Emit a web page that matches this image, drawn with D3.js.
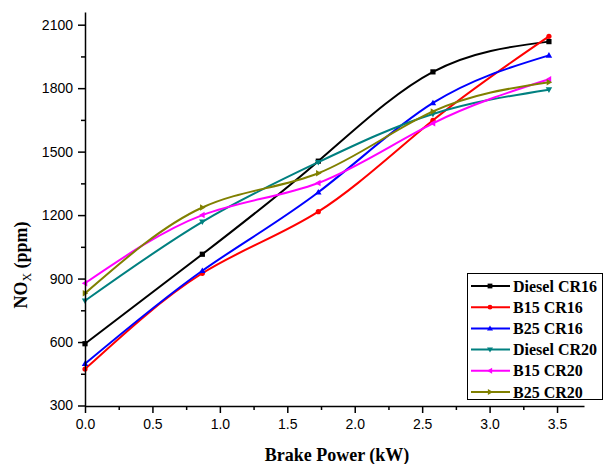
<!DOCTYPE html>
<html><head><meta charset="utf-8">
<script src="https://cdn.jsdelivr.net/npm/d3@7"></script>
<style>body{margin:0;background:#fff}svg{display:block}</style>
</head><body>
<svg id="c" width="604" height="464"></svg>
<script>
const brakePower = [0, 0.87, 1.73, 2.58, 3.44];
const seriesNames = ["Diesel CR16", "B15 CR16", "B25 CR16", "Diesel CR20", "B15 CR20", "B25 CR20"];
const dieselCR16 = [592, 1015, 1455, 1877, 2020];
const b15CR16 = [472, 925, 1216, 1648, 2045];
const b25CR16 = [497, 937, 1308, 1730, 1955];
const dieselCR20 = [795, 1168, 1450, 1678, 1793];
const b15CR20 = [878, 1200, 1352, 1634, 1842];
const b25CR20 = [830, 1236, 1398, 1690, 1828];
const xTicks = [0, 0.5, 1.0, 1.5, 2.0, 2.5, 3.0, 3.5];
const yTicks = [300, 600, 900, 1200, 1500, 1800, 2100];
const colors = ["#000000", "#ff0000", "#0000ff", "#008080", "#ff00ff", "#808000"];
const symbols = ["square", "circle", "up", "down", "left", "right"];
const allSeries = [dieselCR16, b15CR16, b25CR16, dieselCR20, b15CR20, b25CR20];

const svg = d3.select("#c");
const x = d3.scaleLinear().domain([0, 3.7]).range([85, 584]);
const y = d3.scaleLinear().domain([300, 2160]).range([405.5, 12]);

function marker(g, type, cx, cy, color, s) {
  s = s || 2.6;
  if (type === "square") g.append("rect").attr("x", cx - s).attr("y", cy - s).attr("width", 2*s).attr("height", 2*s).attr("fill", color);
  else if (type === "circle") g.append("circle").attr("cx", cx).attr("cy", cy).attr("r", s).attr("fill", color);
  else {
    const r = s * 1.25;
    let pts;
    if (type === "up") pts = [[0,-r],[r,r*0.7],[-r,r*0.7]];
    if (type === "down") pts = [[0,r],[r,-r*0.7],[-r,-r*0.7]];
    if (type === "left") pts = [[-r,0],[r*0.7,-r],[r*0.7,r]];
    if (type === "right") pts = [[r,0],[-r*0.7,-r],[-r*0.7,r]];
    g.append("polygon").attr("points", pts.map(p => (cx+p[0])+","+(cy+p[1])).join(" ")).attr("fill", color);
  }
}

// lines
const line = d3.line().x(d => x(d[0])).y(d => y(d[1])).curve(d3.curveNatural);
allSeries.forEach((vals, i) => {
  const data = brakePower.map((b, j) => [b, vals[j]]);
  svg.append("path").attr("d", line(data)).attr("fill", "none").attr("stroke", colors[i]).attr("stroke-width", 2);
  const g = svg.append("g");
  data.forEach(d => marker(g, symbols[i], x(d[0]), y(d[1]), colors[i]));
});

// axes
const xAxis = d3.axisBottom(x).tickValues(xTicks).tickFormat(d3.format(".1f")).tickSize(7).tickSizeOuter(0);
const gx = svg.append("g").attr("transform", "translate(0,406)").call(xAxis);
gx.selectAll(".tick text").attr("font-family", "Liberation Sans, Arial, sans-serif").attr("font-size", 14).attr("dy", "0.9em").attr("fill", "#000");
gx.select(".domain").attr("stroke-width", 1.5);
gx.selectAll(".tick line").attr("stroke-width", 1.5);
const gxm = svg.append("g").attr("transform", "translate(0,406)").call(d3.axisBottom(x).tickValues(d3.range(0.25, 3.7, 0.5)).tickSize(4).tickFormat(""));
gxm.select(".domain").remove();
gxm.selectAll(".tick line").attr("stroke-width", 1.5);

const yAxis = d3.axisLeft(y).tickValues(yTicks).tickFormat(d3.format("d")).tickSize(7).tickSizeOuter(0);
const gy = svg.append("g").attr("transform", "translate(85,0)").call(yAxis);
gy.selectAll(".tick text").attr("font-family", "Liberation Sans, Arial, sans-serif").attr("font-size", 14).attr("x", -12).attr("fill", "#000");
gy.select(".domain").attr("stroke-width", 1.5);
gy.selectAll(".tick line").attr("stroke-width", 1.5);
const gym = svg.append("g").attr("transform", "translate(85,0)").call(d3.axisLeft(y).tickValues(d3.range(450, 2160, 300)).tickSize(4).tickFormat(""));
gym.select(".domain").remove();
gym.selectAll(".tick line").attr("stroke-width", 1.5);

// titles
svg.append("text").attr("x", 337).attr("y", 461).attr("text-anchor", "middle")
  .attr("font-family", "Liberation Serif, Times New Roman, serif").attr("font-weight", "bold").attr("font-size", 18)
  .text("Brake Power (kW)");
const yt = svg.append("text").attr("transform", "translate(27,265) rotate(-90)").attr("text-anchor", "middle")
  .attr("font-family", "Liberation Serif, Times New Roman, serif").attr("font-weight", "bold").attr("font-size", 18);
yt.append("tspan").text("NO");
yt.append("tspan").attr("font-size", 12).attr("font-weight", "normal").attr("dy", 4).text("X");
yt.append("tspan").attr("dy", -4).text(" (ppm)");

// legend
const lg = svg.append("g");
lg.append("rect").attr("x", 467.5).attr("y", 273.5).attr("width", 135).attr("height", 126).attr("fill", "#fff").attr("stroke", "#000").attr("stroke-width", 1);
seriesNames.forEach((name, i) => {
  const ry = 286 + i * 21.2;
  lg.append("line").attr("x1", 471).attr("x2", 510).attr("y1", ry).attr("y2", ry).attr("stroke", colors[i]).attr("stroke-width", 2);
  marker(lg, symbols[i], 490, ry, colors[i], 2.4);
  lg.append("text").attr("x", 513).attr("y", ry).attr("dy", "0.35em")
    .attr("font-family", "Liberation Serif, Times New Roman, serif").attr("font-weight", "bold").attr("font-size", 16)
    .text(name);
});
</script>
</body></html>
